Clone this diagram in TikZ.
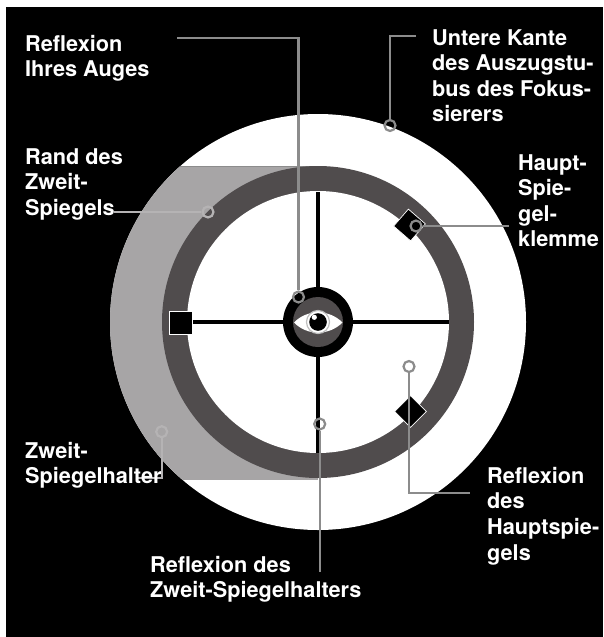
\documentclass[tikz,border=0pt]{standalone}
\usepackage{fontspec}
\setmainfont{TeX Gyre Heros}
\definecolor{ringgrey}{HTML}{504C4D}
\definecolor{holder}{HTML}{A7A5A6}
\definecolor{leader}{HTML}{8C8C8C}
\definecolor{leaderlight}{HTML}{B5B3B4}
\tikzset{
  x=1pt,y=-1pt,
  lbl/.style={inner sep=0pt,align=left,font=\fontsize{21.7}{25.6}\selectfont\bfseries,text=white,anchor=north west},
  leaderline/.style={draw=leader,line width=2.4pt},
  lightline/.style={draw=leaderlight,line width=2.4pt},
  dot/.style={circle,draw=leader,line width=2.2pt,minimum size=11pt,inner sep=0pt},
  lightdot/.style={dot,draw=leaderlight},
  clampbox/.style={fill=black,draw=white,line width=0.7pt,minimum size=22.5pt,inner sep=0pt}
}
\begin{document}
\begin{tikzpicture}
\useasboundingbox (0,0) rectangle (603,637);
\fill[white] (0,0) rectangle (603,637);
\fill[black] (6,7) rectangle (603,637);
% bodies
\fill[white] (318,322) circle (208);
\begin{scope}
  \clip (318,322) circle (208);
  \fill[holder] (100,166) -- (318,166) -- (318,480) -- (100,480) -- cycle;
  \draw[leader,line width=0.8pt] (100,166) -- (318,166);
\end{scope}
\fill[ringgrey] (318,322) circle (156);
\fill[white] (318,322) circle (131);
% spider
\draw[black,line width=4pt] (188,322) -- (449,322);
\draw[black,line width=4pt] (318,192) -- (318,453);
\fill[black] (318,322) circle (35);
\fill[ringgrey] (318,322) circle (25);
% eye
\fill[white] (294,322.5) .. controls (307,309) and (329,309) .. (342.5,322.5) .. controls (329,336) and (307,336) .. (294,322.5) -- cycle;
\draw[lightgray,line width=1.2pt,fill=white] (318,322) circle (11.5);
\fill[black] (318,322) circle (8.8);
\fill[white] (314.3,317.3) circle (2.6);
% clamps
\node[clampbox] (c1) at (181,323) {};
\node[clampbox,rotate=-41] (c2) at (409.5,225) {};
\node[clampbox,rotate=45] (c3) at (410.5,411.5) {};
% leader rings
\node[dot] (d1) at (298.5,297) {};
\node[dot] (d2) at (390,125.5) {};
\node[lightdot] (d3) at (208,212) {};
\node[dot] (d4) at (416,226) {};
\node[dot] (d5) at (409,366.5) {};
\node[lightdot] (d6) at (161.7,431.7) {};
\node[dot] (d7) at (319.7,424) {};
% free ends
\coordinate (e1) at (177,38);
\coordinate (e2) at (416,36);
\coordinate (e3) at (114,212);
\coordinate (e4) at (509,226);
\coordinate (e5) at (470,493);
\coordinate (e6) at (137,478);
\coordinate (e7) at (319.7,572);
\draw[leaderline] (e1) -| (d1);
\draw[leaderline] (e2) -| (d2);
\draw[lightline] (e3) -- (d3);
\draw[leaderline] (d4) -- (e4);
\draw[leaderline] (d5) |- (e5);
\draw[lightline] (d6) |- (e6);
\draw[leaderline] (d7) -- (e7);
% labels
\node[lbl] (t1) at (25,35) {Reflexion\\Ihres Auges};
\node[lbl] (t2) at (432,29) {Untere Kante\\des Auszugstu-\\bus des Fokus-\\sierers};
\node[lbl] (t3) at (25,148) {Rand des\\Zweit-\\Spiegels};
\node[lbl] (t4) at (518,154) {Haupt-\\Spie-\\gel-\\klemme};
\node[lbl] (t5) at (25,442) {Zweit-\\Spiegelhalter};
\node[lbl] (t6) at (150,556) {Reflexion des\\Zweit-Spiegelhalters};
\node[lbl] (t7) at (487,467) {Reflexion\\des\\Hauptspie-\\gels};
\end{tikzpicture}
\end{document}
